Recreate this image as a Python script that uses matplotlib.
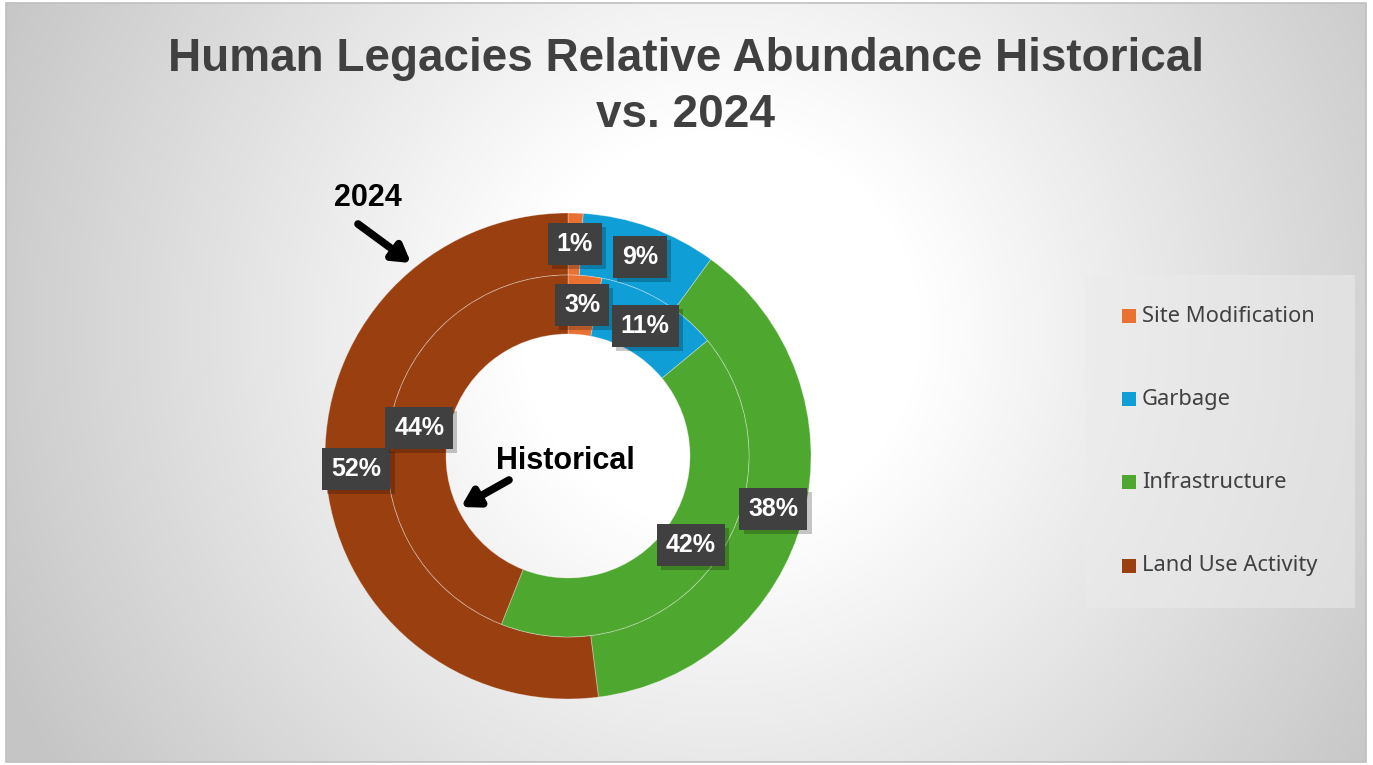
import numpy as np
import matplotlib
matplotlib.use("Agg")
import matplotlib.pyplot as plt
from matplotlib.patches import Rectangle
import matplotlib.patheffects as pe

# ---------------- data ----------------
categories = ["Site Modification", "Garbage", "Infrastructure", "Land Use Activity"]
values_2024 = [1, 9, 38, 52]
values_historical = [3, 11, 42, 44]
colors = ["#E97132", "#0F9ED5", "#4EA72E", "#9A3F10"]
title = "Human Legacies Relative Abundance Historical\nvs. 2024"

W, H = 1373, 765
fig = plt.figure(figsize=(W / 100, H / 100), dpi=100)
fig.patch.set_facecolor("white")

# background gradient axes
bg = fig.add_axes([0, 0, 1, 1])
bg.set_xlim(0, W)
bg.set_ylim(0, H)
bg.axis("off")
x0, y0, x1, y1 = 6, 3, 1366, 762  # chart area in pixel (top-left origin)
xx, yy = np.meshgrid(np.arange(x0, x1), np.arange(y0, y1))
d = np.hypot(xx - 720, yy - 330) / 800.0
t = np.clip((d - 0.25) / 0.75, 0, 1)
v = (255 - 58 * t) / 255.0
img = np.dstack([v, v, v])
bg.imshow(img, extent=[x0, x1, H - y1, H - y0], origin="upper", zorder=0,
          interpolation="bilinear", aspect="auto")
bg.add_patch(Rectangle((x0, H - y1), x1 - x0, y1 - y0, fill=False,
                       edgecolor="#BFBFBF", linewidth=1.2, zorder=1))

# main axes in pixel coordinates
ax = fig.add_axes([0, 0, 1, 1])
ax.patch.set_alpha(0)
cx, cy = 568, H - 456
R_out, R_mid, R_in = 243, 181, 122

ax.pie(values_2024, colors=colors, radius=R_out, center=(cx, cy), startangle=90,
       counterclock=False,
       wedgeprops=dict(width=R_out - R_mid, edgecolor=(1, 1, 1, 0.35), linewidth=0.6))
ax.pie(values_historical, colors=colors, radius=R_mid, center=(cx, cy), startangle=90,
       counterclock=False,
       wedgeprops=dict(width=R_mid - R_in, edgecolor=(1, 1, 1, 0.35), linewidth=0.6))
ax.set_xlim(0, W)
ax.set_ylim(0, H)
ax.set_aspect("equal")
ax.axis("off")

label_font = dict(family=["Liberation Sans", "DejaVu Sans"], weight="bold", size=18)


def add_labels(vals, r):
    cum = np.cumsum([0] + list(vals))
    total = float(sum(vals))
    for i, val in enumerate(vals):
        mid = (cum[i] + cum[i + 1]) / 2.0 / total
        ang = np.deg2rad(90 - 360 * mid)
        x = cx + r * np.cos(ang)
        y = cy + r * np.sin(ang)
        txt = ax.text(x, y, f"{val}%", ha="center", va="center", color="white",
                      zorder=6, **label_font,
                      bbox=dict(boxstyle="square,pad=0.36", facecolor="#404040",
                                edgecolor="none"))
        txt.get_bbox_patch().set_path_effects(
            [pe.SimplePatchShadow(offset=(3, -3), shadow_rgbFace="black", alpha=0.22),
             pe.Normal()])


add_labels(values_2024, (R_out + R_mid) / 2)
add_labels(values_historical, (R_mid + R_in) / 2)

# title
fig.text(686 / W, 1 - 87 / H, title, ha="center", va="center", color="#404040",
         fontsize=33, fontweight="bold", family=["Liberation Sans", "DejaVu Sans"],
         linespacing=1.38)

# annotations
ann_font = dict(family=["Liberation Sans", "DejaVu Sans"], weight="bold", size=22, color="black")
ax.text(368, H - 198, "2024", ha="center", va="center", **ann_font)
ax.annotate("", xy=(411, H - 263), xytext=(358, H - 224),
            arrowprops=dict(arrowstyle="-|>,head_length=1.0,head_width=0.6",
                            color="black", lw=5.5, shrinkA=0, shrinkB=0))
ax.text(565, H - 461, "Historical", ha="center", va="center", **ann_font)
ax.annotate("", xy=(461, H - 507), xytext=(509, H - 480),
            arrowprops=dict(arrowstyle="-|>,head_length=1.0,head_width=0.6",
                            color="black", lw=5.5, shrinkA=0, shrinkB=0))

# legend
ax.add_patch(Rectangle((1085, H - 608), 270, 333, facecolor=(0.92, 0.92, 0.92, 0.55),
                       edgecolor="none", zorder=3))
leg_y = [316, 399, 482, 566]
for c, name, ly in zip(colors, categories, leg_y):
    ax.add_patch(Rectangle((1122, H - ly - 7), 14, 14, facecolor=c, edgecolor="none", zorder=4))
    ax.text(1142, H - ly, name, ha="left", va="center", color="#404040", fontsize=15.8,
            family=["Noto Sans", "DejaVu Sans"], zorder=4)

fig.savefig("out.png", dpi=100)
